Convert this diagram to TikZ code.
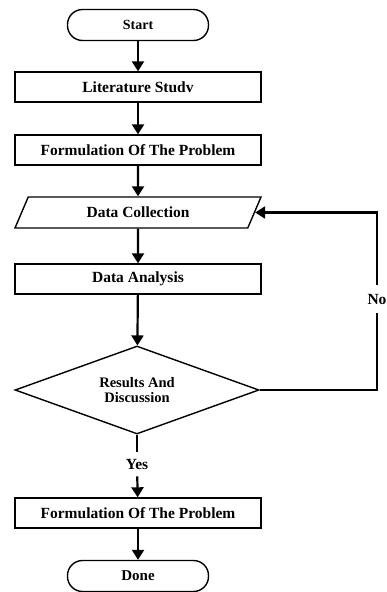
\documentclass[tikz,border=0pt]{standalone}
\usepackage{fontspec}
\setmainfont{Liberation Serif}
\usetikzlibrary{shapes.geometric,arrows.meta}
\tikzset{
  term/.style={draw, rounded corners=15pt, minimum width=141pt, minimum height=31pt, line width=1.4pt, font=\fontsize{14}{16}\selectfont\bfseries},
  proc/.style={draw, minimum width=246pt, minimum height=30pt, line width=1.4pt, font=\fontsize{15.5}{18}\selectfont\bfseries},
  io/.style={draw, trapezium, trapezium left angle=53, trapezium right angle=127, trapezium stretches body, minimum width=246pt, minimum height=31pt, line width=1.4pt, font=\fontsize{15.5}{18}\selectfont\bfseries},
  dec/.style={draw, diamond, aspect=2.7, minimum width=244pt, minimum height=88pt, inner sep=0pt, line width=1.4pt, align=center, font=\fontsize{14.5}{15.5}\selectfont\bfseries},
  flow/.style={-{Triangle[width=12pt,length=10pt]}, line width=2.2pt},
  line/.style={line width=2.2pt},
  lab/.style={font=\fontsize{15.5}{18}\selectfont\bfseries, inner xsep=1pt}
}
\begin{document}
\begin{tikzpicture}[x=1pt,y=-1pt]
  \useasboundingbox (0,0) rectangle (386,592);

  \node[term] (start) at (138,25) {Start};
  \node[proc] (lit) at (138,87) {Literature Studv};
  \node[proc] (form) at (138,150) {Formulation Of The Problem};
  \node[io] (collect) at (138,212.5) {Data Collection};
  \node[proc] (analysis) at (138,279) {Data Analysis};
  \node[dec] (results) at (137,390) {Results And\\Discussion};
  \node[lab, inner ysep=7pt] (yes) at (137,464) {Yes};
  \node[proc] (form2) at (138,513) {Formulation Of The Problem};
  \node[term, font=\fontsize{15}{17}\selectfont\bfseries] (done) at (138,576) {Done};
  \node[lab, inner ysep=9pt] (no) at (377,299) {No};

  \draw[flow] (start) -- (lit);
  \draw[flow] (lit) -- (form);
  \draw[flow] (form) -- (collect);
  \draw[flow] (collect) -- (analysis);
  \draw[flow] (analysis) -- (results);
  \draw[line] (results) -- (yes);
  \draw[flow] (yes) -- (form2);
  \draw[flow] (form2) -- (done);
  % loop back when the results are not good
  \draw[line] (results.east) -| (no.south);
  \draw[flow] (no.north) |- (collect.east);
\end{tikzpicture}
\end{document}
